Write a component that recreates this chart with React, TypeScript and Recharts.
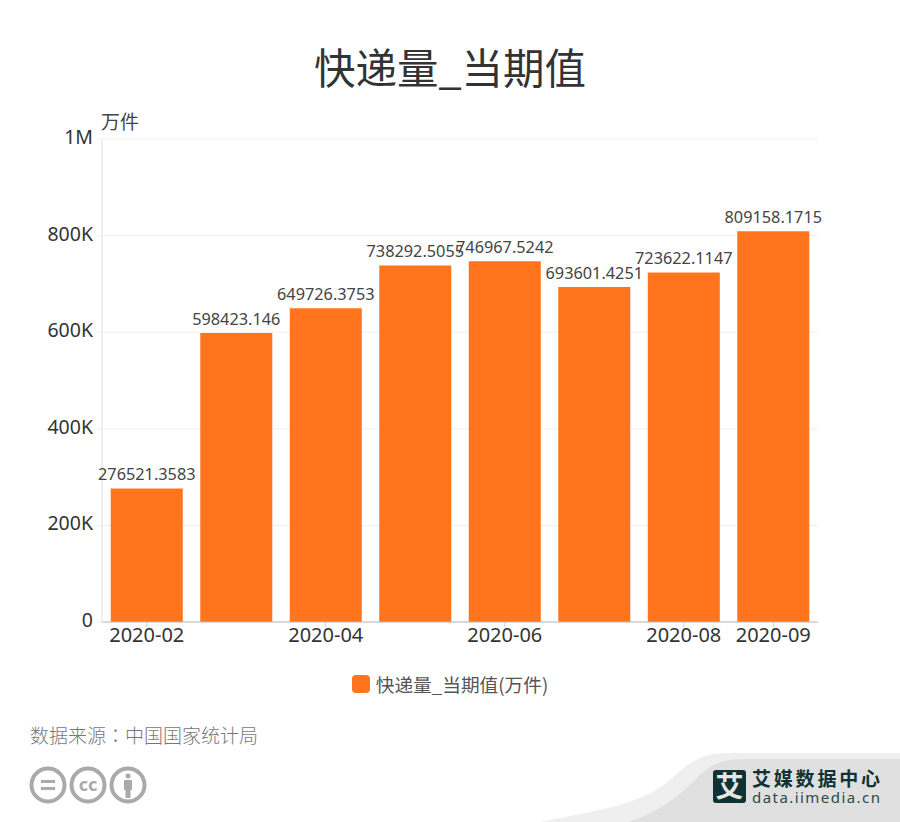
import React from "react";
import { BarChart, Bar, XAxis, YAxis, CartesianGrid, LabelList, Legend } from "recharts";

const months = ["2020-02", "2020-03", "2020-04", "2020-05", "2020-06", "2020-07", "2020-08", "2020-09"];
const deliveries = [276521.3583, 598423.146, 649726.3753, 738292.5055, 746967.5242, 693601.4251, 723622.1147, 809158.1715];
const shownMonths = ["2020-02", "2020-04", "2020-06", "2020-08", "2020-09"];
const valueTicks = [0, 200000, 400000, 600000, 800000, 1000000];

const seriesName = "快递量_当期值(万件)";
const CJK = '"Noto Sans CJK SC", "Noto Sans", sans-serif';
const LATIN = '"Noto Sans", "Noto Sans CJK SC", sans-serif';
const ORANGE = "#ff741d";

const rows = months.map((month, i) => ({ month, value: deliveries[i] }));

const formatValue = (v: number) => {
  if (v >= 1000000) return v / 1000000 + "M";
  if (v >= 1000) return v / 1000 + "K";
  return String(v);
};

function LegendRow() {
  return (
    <div style={{ display: "flex", justifyContent: "center", alignItems: "center" }}>
      <span style={{ width: 18, height: 18, borderRadius: 4, background: ORANGE, marginRight: 6 }} />
      <span style={{ fontFamily: CJK, fontSize: 18.7, color: "#555" }}>{seriesName}</span>
    </div>
  );
}

function Footer() {
  return (
    <svg width={900} height={822} style={{ position: "absolute", left: 0, top: 0, pointerEvents: "none" }}>
      <path d="M540 822 C600 810 640 805 670 780 C690 762 700 753 730 753 L900 753 L900 822 Z" fill="#efefef" />
      <path d="M628 822 C660 812 680 795 697 778 C710 764 722 759 745 759 L900 759 L900 822 Z" fill="#e0e0e0" />
      {[48, 88, 128].map((cx) => (
        <circle key={cx} cx={cx} cy={785} r={16.5} fill="none" stroke="#aaa" strokeWidth={4} />
      ))}
      <rect x={41} y={780} width={14} height={3} fill="#aaa" />
      <rect x={41} y={787} width={14} height={3} fill="#aaa" />
      <text x={88} y={791} textAnchor="middle" fontFamily={LATIN} fontWeight="bold" fontSize={18} fill="#aaa">cc</text>
      <circle cx={128} cy={776} r={2.5} fill="#aaa" />
      <rect x={124} y={780} width={8} height={10} fill="#aaa" />
      <rect x={125.5} y={790} width={5} height={8} fill="#aaa" />
      <rect x={713} y={770} width={33} height={33} rx={3} fill="#0f3232" />
      <text x={729.5} y={797} textAnchor="middle" fontFamily={CJK} fontWeight="bold" fontSize={28} fill="#e6e6e6">艾</text>
      <text x={752} y={786} fontFamily={CJK} fontWeight="bold" fontSize={19} textLength={128} fill="#0f3232">艾媒数据中心</text>
      <text x={752} y={803} fontFamily={LATIN} fontSize={15} textLength={128} fill="#2b4a4a">data.iimedia.cn</text>
    </svg>
  );
}

export default function App() {
  return (
    <div style={{ position: "absolute", left: 0, top: 0, width: 900, height: 822, background: "#fff", overflow: "hidden" }}>
      <div style={{ position: "absolute", left: 0, width: 900, top: 36, textAlign: "center", fontFamily: CJK, fontSize: 41.5, lineHeight: "60px", color: "#333" }}>
        快递量_当期值
      </div>
      <div style={{ position: "absolute", left: 101, top: 107, fontFamily: CJK, fontSize: 19, lineHeight: "28px", color: "#444" }}>万件</div>
      <BarChart
        width={900}
        height={700}
        data={rows}
        margin={{ top: 139, right: 82, bottom: 21, left: 2 }}
        barCategoryGap="9.8%"
      >
        <CartesianGrid vertical={false} stroke="#efefef" />
        <XAxis
          dataKey="month"
          ticks={shownMonths}
          interval={0}
          height={30}
          axisLine={{ stroke: "#bbb" }}
          tickLine={{ stroke: "#ccc" }}
          tickSize={5}
          tickMargin={1}
          tick={{ fontFamily: LATIN, fontSize: 20, fill: "#333" }}
        />
        <YAxis
          domain={[0, 1000000]}
          ticks={valueTicks}
          width={100}
          tickFormatter={formatValue}
          axisLine={{ stroke: "#eee", strokeWidth: 2 }}
          tickLine={{ stroke: "#eee" }}
          tickSize={5}
          tickMargin={4}
          tick={{ fontFamily: LATIN, fontSize: 19.5, fill: "#333", dy: -2 }}
        />
        <Legend content={<LegendRow />} verticalAlign="bottom" wrapperStyle={{ left: 0, width: 900, bottom: 3 }} />
        <Bar dataKey="value" name={seriesName} fill={ORANGE} isAnimationActive={false}>
          <LabelList dataKey="value" position="top" offset={8} style={{ fontFamily: LATIN, fontSize: 16.3, fill: "#444" }} />
        </Bar>
      </BarChart>
      <div style={{ position: "absolute", left: 30, top: 721, fontFamily: CJK, fontSize: 19, lineHeight: "28px", color: "#777", fontWeight: 300, whiteSpace: "pre" }}>
        数据来源<span style={{ fontFamily: '"Noto Sans CJK TC"' }}>：</span>中国国家统计局
      </div>
      <Footer />
    </div>
  );
}
